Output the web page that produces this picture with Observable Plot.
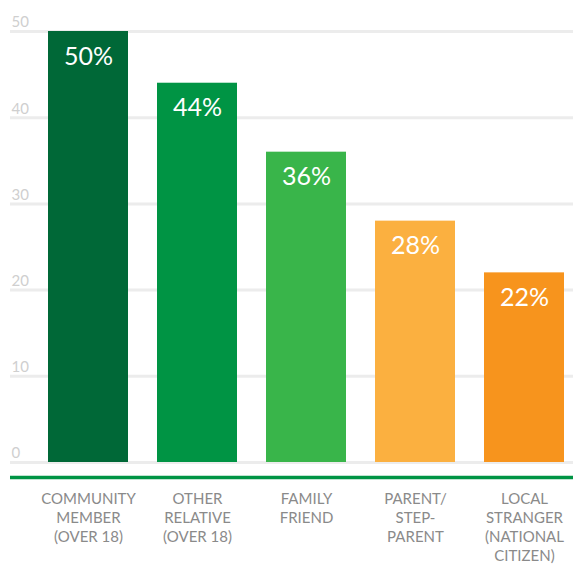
<!DOCTYPE html>
<html>
<head>
<meta charset="utf-8">
<script src="https://cdn.jsdelivr.net/npm/d3@7"></script>
<script src="https://cdn.jsdelivr.net/npm/@observablehq/plot@0.6"></script>
<style>
  html, body { margin: 0; padding: 0; background: #fff; }
  #chart svg { display: block; }
</style>
</head>
<body>
<div id="chart"></div>
<script>
const categories = [
  "COMMUNITY\nMEMBER\n(OVER 18)",
  "OTHER\nRELATIVE\n(OVER 18)",
  "FAMILY\nFRIEND",
  "PARENT/\nSTEP-\nPARENT",
  "LOCAL\nSTRANGER\n(NATIONAL\nCITIZEN)"
];
const values = [50, 44, 36, 28, 22];
const colors = ["#006837", "#009444", "#39b54a", "#fbb040", "#f7941d"];
const yTicks = [0, 10, 20, 30, 40, 50];

const data = categories.map((c, i) => ({cat: c, value: values[i], color: colors[i]}));

const chart = Plot.plot({
  width: 573,
  height: 564,
  marginTop: 31,
  marginBottom: 102,
  marginLeft: 10,
  marginRight: 0,
  style: {fontFamily: "Lato, 'Open Sans', sans-serif", background: "#fff"},
  x: {domain: categories, paddingInner: 0.27, paddingOuter: 0.205, align: 0.8, label: null},
  y: {domain: [0, 50], label: null, axis: null},
  marks: [
    Plot.ruleY(yTicks, {stroke: "#ececec", strokeWidth: 3}),
    Plot.text(yTicks, {y: d => d, text: d => String(d), frameAnchor: "left", textAnchor: "start", dx: 1, dy: -9, fill: "#cfcfcf", fontSize: 15}),
    Plot.barY(data, {x: "cat", y: "value", fill: "color"}),
    Plot.text(data, {x: "cat", y: "value", text: d => d.value + "%", dy: 25, fill: "#ffffff", fontSize: 25}),
    Plot.ruleY([0], {dy: 15, stroke: "#009444", strokeWidth: 3.5}),
    Plot.axisX({tickSize: 0, tickPadding: 28, fontSize: 15, lineHeight: 1.27, fill: "#8a8a8a", label: null})
  ]
});
document.getElementById("chart").appendChild(chart);
</script>
</body>
</html>
